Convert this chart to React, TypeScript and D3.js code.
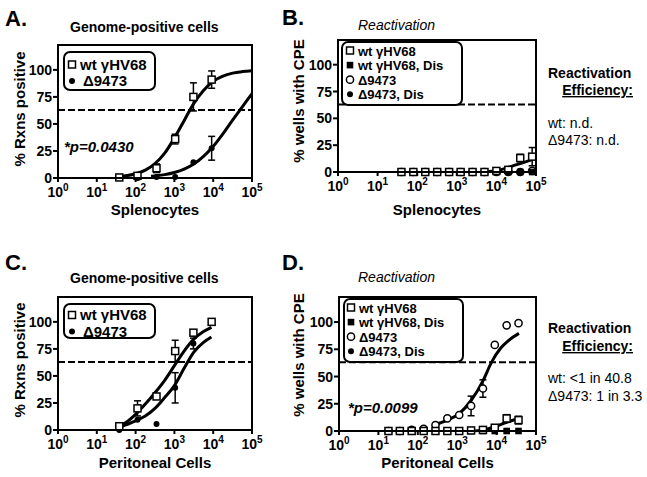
import React from 'react';
import * as d3 from 'd3';

const FONT = '"Liberation Sans", Arial, Helvetica, sans-serif';

// ---------- Panel A: splenocytes, genome-positive ----------
const aCells = [38, 112, 346, 1047, 3090, 9120];
const aWt = [0.5, 2, 9, 36, 75, 91];
const aWtErr = [0, 1.5, 4, 4.5, 13, 8];
const aMut = [0, 0, 1, 1, 14.5, 27.5];
const aMutErr = [0, 0, 0, 0, 0, 11];
const aWtFitCells = [40, 56, 100, 178, 316, 562, 1000, 1778, 3162, 5623, 10000, 17783, 31623, 56234, 100000];
const aWtFit = [1.4, 2.0, 3.9, 7.3, 13.3, 23, 37, 53, 69, 81, 89.5, 94.3, 97, 98.4, 99.2];
const aMutFitCells = [250, 316, 562, 1000, 1778, 3162, 5623, 10000, 17783, 31623, 56234, 100000];
const aMutFit = [1.5, 1.9, 3.1, 5.1, 8.2, 12.9, 19.9, 29.3, 40.9, 53.6, 65.8, 78];

// ---------- Panel B: splenocytes, reactivation ----------
const bCells = [40, 80, 160, 320, 640, 1250, 2500, 5000, 10000, 20000, 40000, 80000];
const bWt = [0, 0, 0, 0, 0, 0, 0, 0, 1, 2, 13, 14.3];
const bWtErr = [0, 0, 0, 0, 0, 0, 0, 0, 0, 1, 3.5, 8.5];
const bWtDis = [0, 0, 0, 0, 0, 0, 0, 0, 0, 0, 0, 0];
const bMut = [0, 0, 0, 0, 0, 0, 0, 0, 0, 0, 0, 1];
const bMutDis = [0, 0, 0, 0, 0, 0, 0, 0, 0, 0, 0, 0];
const bWtFitCells = [6300, 12600, 25000, 50000, 80000];
const bWtFit = [0.5, 2, 5.5, 9, 11.5];

// ---------- Panel C: peritoneal, genome-positive ----------
const cCells = [38, 112, 346, 1047, 3090, 9120];
const cWt = [3.5, 20, 31, 73, 90, 100];
const cWtErr = [0, 7, 0, 10, 0, 0];
const cMutCells = [38, 112, 346, 1047, 3090];
const cMut = [0, 9.5, 5.5, 39, 80];
const cMutErr = [0, 0, 0, 14, 5];
const cWtFitCells = [38, 56, 100, 178, 316, 562, 1000, 1778, 3162, 5623, 9000];
const cWtFit = [4, 7, 14.5, 24, 34.5, 46, 59.5, 73, 84, 91, 95];
const cMutFitCells = [38, 100, 178, 316, 562, 1000, 1778, 3162, 5623, 9000];
const cMutFit = [2.5, 8.5, 13, 20, 30, 41, 57, 72, 81, 86];

// ---------- Panel D: peritoneal, reactivation ----------
const dCells = [18, 35, 70, 141, 281, 562, 1125, 2250, 4500, 9000, 18000, 36000];
const dWt = [0, 0, 0, 0, 0, 0, 0, 0.5, 1, 3, 11.5, 10];
const dWtErr = [0, 0, 0, 0, 0, 0, 0, 0, 0, 1, 3.5, 3.5];
const dWtDis = [0, 0, 0, 0, 0, 0, 0, 0, 0, 0, 0, 0];
const dMut = [0, 0, 1, 2, 5.5, 11.6, 14.7, 23, 39, 79, 97, 99];
const dMutErr = [0, 0, 0, 0, 0, 0, 0, 9, 8, 0, 0, 0];
const dMutDis = [0, 0, 0, 0, 0, 0, 0, 0, 0, 0, 0, 0];
const dMutFitCells = [281, 562, 1125, 2250, 4500, 7400, 12600, 20000, 37000];
const dMutFit = [6, 10, 16, 28, 46, 63, 76, 83, 89.6];
const dWtFitCells = [2250, 4500, 9000, 18000, 36000];
const dWtFit = [0, 0.8, 4, 8, 11.5];

const yTicks = [0, 25, 50, 75, 100];
const xDecades = [0, 1, 2, 3, 4, 5];
const poissonLine = 63;

const genomeLegend = ['wt γHV68', 'Δ9473'];
const reactLegend = ['wt γHV68', 'wt γHV68, Dis', 'Δ9473', 'Δ9473, Dis'];

type Series = { cells: number[]; vals: number[]; err?: number[]; marker: string };
type Fit = { cells: number[]; vals: number[] };

function Marker({ type, cx, cy }: { type: string; cx: number; cy: number }) {
  if (type === 'sq') return <rect x={cx - 3.5} y={cy - 3.5} width={7} height={7} fill="white" stroke="black" strokeWidth={1.5} />;
  if (type === 'sqf') return <rect x={cx - 3.3} y={cy - 3.3} width={6.6} height={6.6} fill="black" />;
  if (type === 'ci') return <circle cx={cx} cy={cy} r={3.6} fill="white" stroke="black" strokeWidth={1.5} />;
  return <circle cx={cx} cy={cy} r={3} fill="black" />;
}

function Panel(p: any) {
  const x = d3.scaleLog().domain([1, 1e5]).range([p.left, p.right]);
  const y = d3.scaleLinear().domain([0, 123]).range([p.bottom, p.top]);
  const line = d3.line<[number, number]>().x((d) => x(d[0])).y((d) => y(d[1])).curve(d3.curveMonotoneX);
  const series: Series[] = p.series;
  const fits: Fit[] = p.fits;
  const lg = p.legend;
  return (
    <g fontFamily={FONT}>
      <text x={p.labelX} y={p.labelY} fontSize={22} fontWeight="bold">{p.label}</text>
      <text x={p.titleX} y={p.titleY} fontSize={14} fontWeight={p.titleItalic ? 'normal' : 'bold'} fontStyle={p.titleItalic ? 'italic' : 'normal'}>{p.title}</text>
      <text transform={`translate(${p.yTitleX + 5},${p.yTitleY}) rotate(-90)`} textAnchor="middle" fontSize={15} fontWeight="bold">{p.yTitle}</text>
      <text x={(p.left + p.right) / 2} y={p.xTitleY} textAnchor="middle" fontSize={15} fontWeight="bold">{p.xTitle}</text>
      {yTicks.map((t) => (
        <g key={'y' + t}>
          <line x1={p.left - 5} x2={p.left} y1={y(t)} y2={y(t)} stroke="black" strokeWidth={2} />
          <text x={p.left - 6} y={y(t) + 5} textAnchor="end" fontSize={14} fontWeight="bold">{t}</text>
        </g>
      ))}
      {xDecades.map((e) => (
        <g key={'x' + e}>
          <line x1={x(Math.pow(10, e))} x2={x(Math.pow(10, e))} y1={p.bottom} y2={p.bottom + 4} stroke="black" strokeWidth={2} />
          <text x={x(Math.pow(10, e))} y={p.bottom + 19} textAnchor="middle" fontSize={14} fontWeight="bold">
            10<tspan fontSize={10} dy={-6}>{e}</tspan>
          </text>
        </g>
      ))}
      <line x1={p.left} x2={p.right} y1={y(poissonLine)} y2={y(poissonLine)} stroke="black" strokeWidth={2} strokeDasharray="7,3" />
      {fits.map((f, i) => (
        <path key={'f' + i} d={line(f.cells.map((c, j) => [c, f.vals[j]] as [number, number])) || ''} fill="none" stroke="black" strokeWidth={3} />
      ))}
      {series.map((s, i) => s.err ? s.cells.map((c, j) => (s.err![j] > 0 ? (
        <g key={'e' + i + '-' + j} stroke="black" strokeWidth={1.5}>
          <line x1={x(c)} x2={x(c)} y1={y(s.vals[j] - s.err![j])} y2={y(s.vals[j] + s.err![j])} />
          <line x1={x(c) - 3.5} x2={x(c) + 3.5} y1={y(s.vals[j] + s.err![j])} y2={y(s.vals[j] + s.err![j])} />
          <line x1={x(c) - 3.5} x2={x(c) + 3.5} y1={y(s.vals[j] - s.err![j])} y2={y(s.vals[j] - s.err![j])} />
        </g>
      ) : null)) : null)}
      {series.map((s, i) => s.cells.map((c, j) => (
        <Marker key={'m' + i + '-' + j} type={s.marker} cx={x(c)} cy={y(s.vals[j])} />
      )))}
      <rect x={p.left} y={p.top} width={p.right - p.left} height={p.bottom - p.top} fill="none" stroke="black" strokeWidth={2} />
      <rect x={lg.x} y={lg.y} width={lg.w} height={lg.h} rx={6} fill="white" stroke="black" strokeWidth={2} />
      {lg.items.map((it: string, i: number) => (
        <g key={'l' + i}>
          <Marker type={lg.markers[i]} cx={lg.mx} cy={lg.y0 + i * lg.dy} />
          <text x={lg.tx[i]} y={lg.y0 + i * lg.dy + 5} fontSize={lg.fs} fontWeight="bold">{it}</text>
        </g>
      ))}
      {p.pval && (
        <text x={p.pval.x} y={p.pval.y} fontSize={15} fontWeight="bold" fontStyle="italic">{p.pval.t}</text>
      )}
    </g>
  );
}

function Efficiency({ x, y0, y1, y2, y3, wt, mut }: any) {
  return (
    <g fontFamily={FONT} fontSize={14}>
      <text x={x} y={y0} fontWeight="bold">Reactivation</text>
      <text x={x + 85} y={y1} fontWeight="bold" textAnchor="end" textDecoration="underline">Efficiency:</text>
      <text x={x} y={y2}>{wt}</text>
      <text x={x} y={y3}>{mut}</text>
    </g>
  );
}

export default function App() {
  const A = {
    left: 58, right: 252, top: 45, bottom: 178,
    label: 'A.', labelX: 5, labelY: 26, title: 'Genome-positive cells', titleX: 70, titleY: 32, titleItalic: false,
    yTitle: '% Rxns positive', yTitleX: 20, yTitleY: 109, xTitle: 'Splenocytes', xTitleY: 215,
    series: [
      { cells: aCells, vals: aMut, err: aMutErr, marker: 'cif' },
      { cells: aCells, vals: aWt, err: aWtErr, marker: 'sq' },
    ],
    fits: [{ cells: aWtFitCells, vals: aWtFit }, { cells: aMutFitCells, vals: aMutFit }],
    legend: { x: 64, y: 52, w: 91, h: 38, items: genomeLegend, markers: ['sq', 'cif'], mx: 72, tx: [80, 83], y0: 64.5, dy: 16.5, fs: 15 },
    pval: { x: 64, y: 152, t: '*p=0.0430' },
  };
  const B = {
    left: 338, right: 536, top: 40, bottom: 172,
    label: 'B.', labelX: 282, labelY: 25, title: 'Reactivation', titleX: 358, titleY: 30, titleItalic: true,
    yTitle: '% wells with CPE', yTitleX: 299, yTitleY: 101, xTitle: 'Splenocytes', xTitleY: 215,
    series: [
      { cells: bCells, vals: bMutDis, marker: 'cif' },
      { cells: bCells, vals: bMut, marker: 'ci' },
      { cells: bCells, vals: bWtDis, marker: 'sqf' },
      { cells: bCells, vals: bWt, err: bWtErr, marker: 'sq' },
    ],
    fits: [{ cells: bWtFitCells, vals: bWtFit }],
    legend: { x: 342, y: 42, w: 120, h: 63, items: reactLegend, markers: ['sq', 'sqf', 'ci', 'cif'], mx: 350, tx: [358, 358, 358, 358], y0: 50.5, dy: 14.6, fs: 13 },
  };
  const C = {
    left: 58, right: 252, top: 297, bottom: 430,
    label: 'C.', labelX: 5, labelY: 270, title: 'Genome-positive cells', titleX: 70, titleY: 283, titleItalic: false,
    yTitle: '% Rxns positive', yTitleX: 20, yTitleY: 360, xTitle: 'Peritoneal Cells', xTitleY: 468,
    series: [
      { cells: cMutCells, vals: cMut, err: cMutErr, marker: 'cif' },
      { cells: cCells, vals: cWt, err: cWtErr, marker: 'sq' },
    ],
    fits: [{ cells: cWtFitCells, vals: cWtFit }, { cells: cMutFitCells, vals: cMutFit }],
    legend: { x: 64, y: 304, w: 91, h: 34, items: genomeLegend, markers: ['sq', 'cif'], mx: 72, tx: [80, 83], y0: 315, dy: 16.5, fs: 15 },
  };
  const D = {
    left: 339, right: 536, top: 297, bottom: 431,
    label: 'D.', labelX: 282, labelY: 270, title: 'Reactivation', titleX: 358, titleY: 282, titleItalic: true,
    yTitle: '% wells with CPE', yTitleX: 299, yTitleY: 355, xTitle: 'Peritoneal Cells', xTitleY: 468,
    series: [
      { cells: dCells, vals: dMutDis, marker: 'cif' },
      { cells: dCells, vals: dWtDis, marker: 'sqf' },
      { cells: dCells, vals: dMut, err: dMutErr, marker: 'ci' },
      { cells: dCells, vals: dWt, err: dWtErr, marker: 'sq' },
    ],
    fits: [{ cells: dMutFitCells, vals: dMutFit }, { cells: dWtFitCells, vals: dWtFit }],
    legend: { x: 344, y: 299, w: 119, h: 63, items: reactLegend, markers: ['sq', 'sqf', 'ci', 'cif'], mx: 351, tx: [359, 359, 359, 359], y0: 307.5, dy: 14.6, fs: 13 },
    pval: { x: 348, y: 413, t: '*p=0.0099' },
  };
  return (
    <svg width={647} height={477} style={{ position: 'absolute', left: 0, top: 0, background: 'white' }}>
      <rect width={647} height={477} fill="white" />
      <Panel {...A} />
      <Panel {...B} />
      <Panel {...C} />
      <Panel {...D} />
      <Efficiency x={548} y0={78} y1={95} y2={128} y3={145} wt="wt: n.d." mut="Δ9473: n.d." />
      <Efficiency x={548} y0={333} y1={351} y2={383} y3={401} wt="wt: <1 in 40.8" mut="Δ9473: 1 in 3.3" />
    </svg>
  );
}
